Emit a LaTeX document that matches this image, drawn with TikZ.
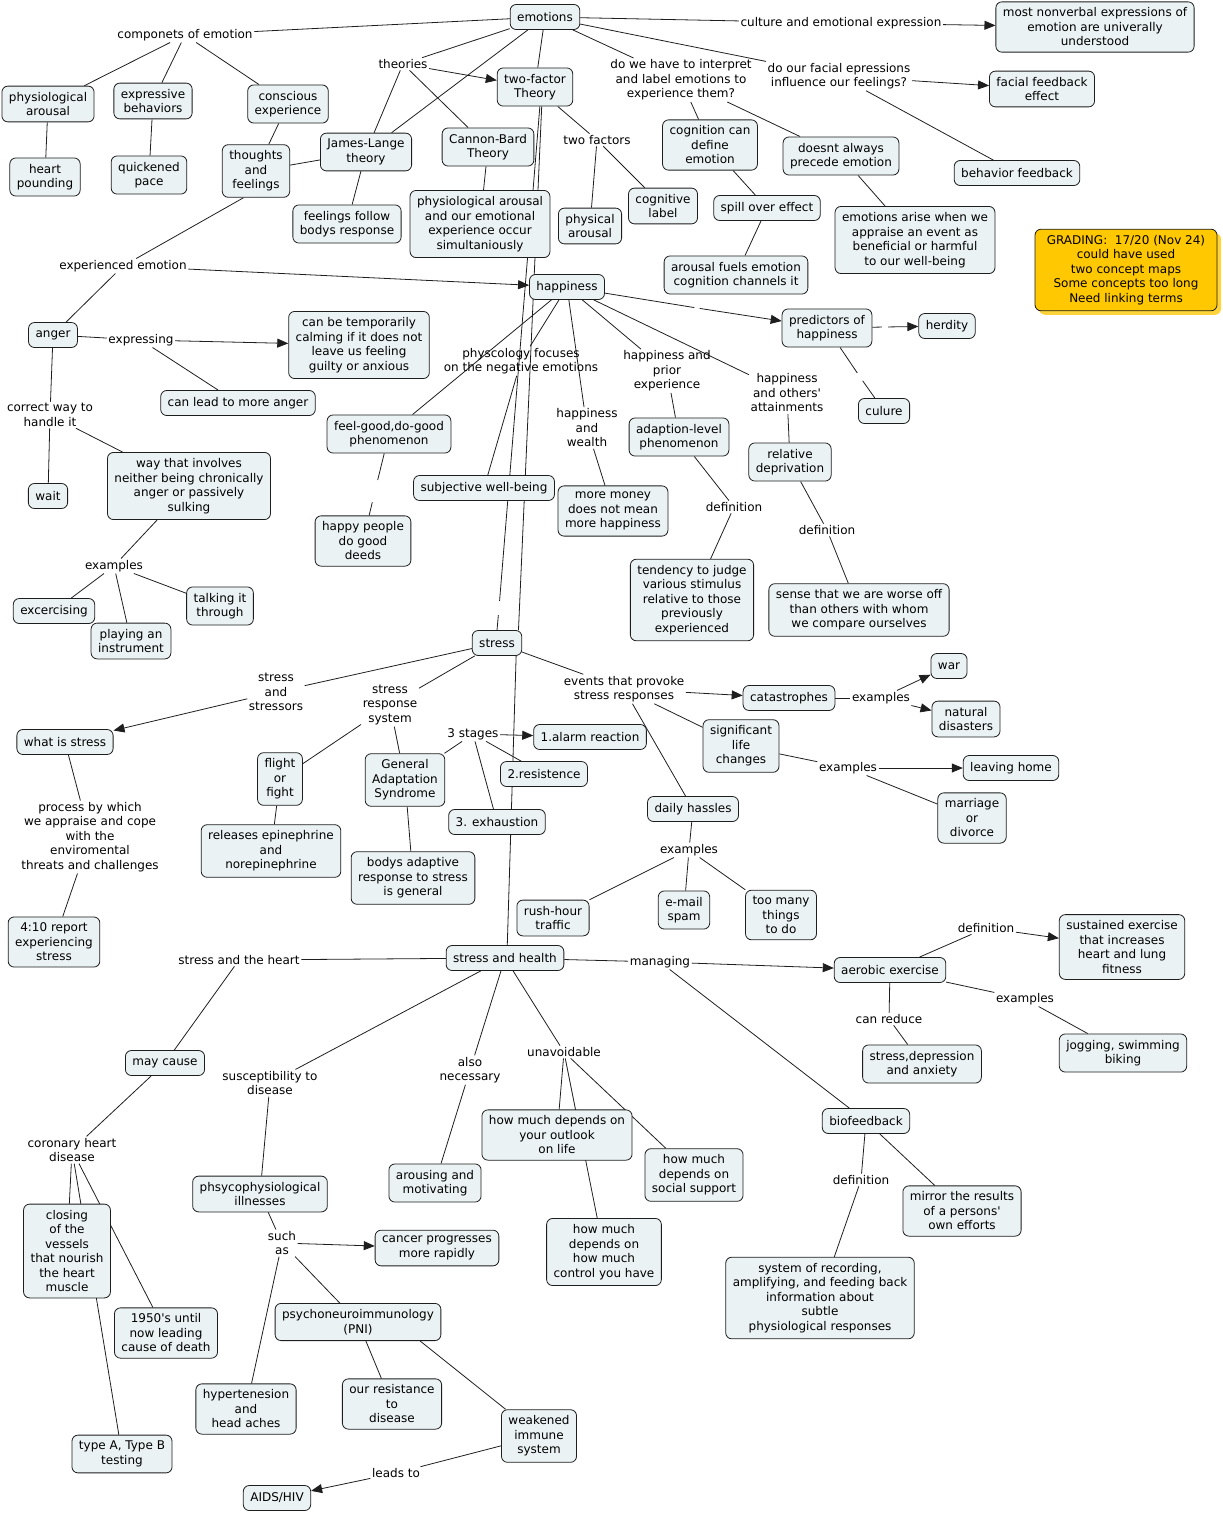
\documentclass[tikz,border=0pt]{standalone}
\usepackage{fontspec}
\setmainfont{DejaVu Sans}
\usetikzlibrary{arrows.meta, positioning, backgrounds, shadows}
\definecolor{cmInk}{HTML}{1E1E1E}
\definecolor{cmFill}{HTML}{EBF2F4}
\definecolor{cmGold}{HTML}{FFC800}
\definecolor{cmGoldShade}{HTML}{FFD43A}
\newcommand{\cmfont}{\fontsize{12}{14.5}\selectfont}
\newcommand{\apos}{\textquotesingle}
\tikzset{
  concept/.style={
    draw=cmInk, line width=0.8pt, rounded corners=6pt,
    fill=cmFill, align=center, font=\cmfont, text=black,
    inner xsep=7pt, inner ysep=6pt, minimum height=25pt
  },
  grading/.style={concept, fill=cmGold, minimum width=182pt,
    drop shadow={fill=cmGoldShade, opacity=1, shadow xshift=4pt, shadow yshift=-4pt}},
  linkph/.style={align=center, font=\cmfont, text=black, inner sep=1.5pt},
  gapbox/.style={inner sep=0pt, minimum width=5pt, minimum height=10pt},
  link/.style={draw=cmInk, line width=0.8pt},
  linkarr/.style={link, -{Triangle[length=11pt, width=9pt]}},
}

\begin{document}
\begin{tikzpicture}[x=1pt, y=-1pt]
  \useasboundingbox (0,0) rectangle (1223,1515);

  % emotions branch
  \node[concept] (emo) at (545,17) {emotions};
  \node[linkph] (lCulture) at (841,23) {culture and emotional expression};
  \node[concept] (nonverbal) at (1095,27) {most nonverbal expressions of\\emotion are univerally\\understood};
  \node[linkph] (lComp) at (185,35) {componets of emotion};
  \node[concept] (physArousal) at (48,104) {physiological\\arousal};
  \node[concept] (expressive) at (153,101) {expressive\\behaviors};
  \node[concept] (conscious) at (288,104) {conscious\\experience};
  \node[concept] (heart) at (45,177) {heart\\pounding};
  \node[concept] (quick) at (149,175) {quickened\\pace};
  \node[concept] (thoughts) at (256,171) {thoughts\\and\\feelings};
  \node[concept] (james) at (366,152) {James-Lange\\theory};
  \node[linkph] (lTheories) at (403,64) {theories};
  \node[concept] (twoF) at (535,87) {two-factor\\Theory};
  \node[concept] (cannon) at (488,147) {Cannon-Bard\\Theory};
  \node[concept] (feelFollow) at (347,224) {feelings follow\\bodys response};
  \node[concept] (simult) at (480,224) {physiological arousal\\and our emotional\\experience occur\\simultaniously};
  \node[linkph] (lInterpret) at (681,80) {do we have to interpret\\and label emotions to\\experience them?};
  \node[linkph] (lFacial) at (839,76) {do our facial epressions\\influence our feelings?};
  \node[concept] (facialFb) at (1042,89) {facial feedback\\effect};
  \node[linkph] (lTwoFactors) at (597,140) {two factors};
  \node[concept] (cogDefine) at (710,145) {cognition can\\define\\emotion};
  \node[concept] (doesnt) at (841,156) {doesnt always\\precede emotion};
  \node[concept] (behavFb) at (1017,173) {behavior feedback};
  \node[concept] (physical) at (590,226) {physical\\arousal};
  \node[concept] (cogLabel) at (663,206) {cognitive\\label};
  \node[concept] (spill) at (767,208) {spill over effect};
  \node[concept] (arise) at (915,240) {emotions arise when we\\appraise an event as\\beneficial or harmful\\to our well-being};
  \node[grading] (grading) at (1126,270) {GRADING:\ \ 17/20 (Nov 24)\\could have used\\two concept maps\\Some concepts too long\\Need linking terms};
  \node[concept] (fuels) at (736,275) {arousal fuels emotion\\cognition channels it};

  % happiness and anger
  \node[linkph] (lExperienced) at (123,266) {experienced emotion};
  \node[concept] (happy) at (567,287) {happiness};
  \node[concept] (anger) at (53,335) {anger};
  \node[linkph] (lExpressing) at (141,340) {expressing};
  \node[concept] (calming) at (359,345) {can be temporarily\\calming if it does not\\leave us feeling\\guilty or anxious};
  \node[concept] (moreAnger) at (238,403) {can lead to more anger};
  \node[concept] (predictors) at (827,328) {predictors of\\happiness};
  \node[concept] (herdity) at (947,326) {herdity};
  \node[concept] (culure) at (884,411) {culure};
  \node[gapbox] (gapPred) at (697,308) {};
  \node[gapbox, minimum width=6pt] (gapHerd) at (885,327) {};
  \node[gapbox] (gapCul) at (860,377) {};
  \node[linkph] (lPsych) at (521,361) {physcology focuses\\on the negative emotions};
  \node[linkph] (lPrior) at (667,371) {happiness and\\prior\\experience};
  \node[linkph] (lOthers) at (787,393) {happiness\\and others\apos\\attainments};
  \node[linkph] (lCorrect) at (50,415) {correct way to\\handle it};
  \node[concept] (feelGood) at (389,434) {feel-good,do-good\\phenomenon};
  \node[linkph] (lWealth) at (587,428) {happiness\\and\\wealth};
  \node[concept] (adaption) at (679,437) {adaption-level\\phenomenon};
  \node[concept] (relative) at (790,462) {relative\\deprivation};
  \node[concept] (wait) at (48,496) {wait};
  \node[concept] (involves) at (189,486) {way that involves\\neither being chronically\\anger or passively\\sulking};
  \node[concept] (subjective) at (484,488) {subjective well-being};
  \node[gapbox, minimum height=27pt] (gapDeeds) at (375,491) {};
  \node[concept] (deeds) at (363,541) {happy people\\do good\\deeds};
  \node[concept] (money) at (613,511) {more money\\does not mean\\more happiness};
  \node[linkph] (lDefAd) at (734,507) {definition};
  \node[linkph] (lDefRel) at (827,530) {definition};
  \node[linkph] (lExAnger) at (114,566) {examples};
  \node[concept] (excercising) at (54,611) {excercising};
  \node[concept] (talking) at (220,606) {talking it\\through};
  \node[concept] (playing) at (131,641) {playing an\\instrument};
  \node[concept] (tendency) at (692,600) {tendency to judge\\various stimulus\\relative to those\\previously\\experienced};
  \node[concept] (worseOff) at (859,610) {sense that we are worse off\\than others with whom\\we compare ourselves};

  % stress
  \node[concept] (stress) at (497,643) {stress};
  \node[gapbox, minimum height=14pt] (gapStress) at (499,608) {};
  \node[linkph] (lStressors) at (276,692) {stress\\and\\stressors};
  \node[linkph] (lResponse) at (390,705) {stress\\response\\system};
  \node[linkph] (lEvents) at (624,689) {events that provoke\\stress responses};
  \node[concept] (catastrophes) at (789,698) {catastrophes};
  \node[linkph] (lExCat) at (881,698) {examples};
  \node[concept] (war) at (949,666) {war};
  \node[concept] (natural) at (966,719) {natural\\disasters};
  \node[concept] (whatStress) at (65,742) {what is stress};
  \node[linkph] (lStages) at (473,734) {3 stages};
  \node[concept] (alarm) at (590,737) {1.alarm reaction};
  \node[concept] (flight) at (280,779) {flight\\or\\fight};
  \node[concept] (gas) at (405,780) {General\\Adaptation\\Syndrome};
  \node[concept] (resist) at (544,774) {2.resistence};
  \node[concept] (sigLife) at (741,746) {significant\\life\\changes};
  \node[linkph] (lExSig) at (848,768) {examples};
  \node[concept] (leaving) at (1011,768) {leaving home};
  \node[concept] (marriage) at (972,818) {marriage\\or\\divorce};
  \node[concept] (hassles) at (693,809) {daily hassles};
  \node[concept] (exhaustion) at (497,822) {3. exhaustion};
  \node[linkph] (lProcess) at (90,837) {process by which\\we appraise and cope\\with the\\enviromental\\threats and challenges};
  \node[concept] (releases) at (271,851) {releases epinephrine\\and\\norepinephrine};
  \node[concept] (adaptive) at (413,878) {bodys adaptive\\response to stress\\is general};
  \node[linkph] (lExDaily) at (689,850) {examples};
  \node[concept] (rush) at (553,918) {rush-hour\\traffic};
  \node[concept] (email) at (684,910) {e-mail\\spam};
  \node[concept] (tooMany) at (781,915) {too many\\things\\to do};
  \node[concept] (report) at (54,942) {4:10 report\\experiencing\\stress};

  % stress and health
  \node[linkph] (lDefAer) at (986,928) {definition};
  \node[concept] (sustained) at (1122,947) {sustained exercise\\that increases\\heart and lung\\fitness};
  \node[linkph] (lHeart) at (239,960) {stress and the heart};
  \node[concept] (health) at (505,958) {stress and health};
  \node[linkph] (lManaging) at (660,962) {managing};
  \node[concept] (aerobic) at (890,970) {aerobic exercise};
  \node[linkph] (lExAer) at (1025,999) {examples};
  \node[linkph] (lReduce) at (889,1019) {can reduce};
  \node[concept] (depression) at (922,1064) {stress,depression\\and anxiety};
  \node[concept] (jogging) at (1123,1053) {jogging, swimming\\biking};
  \node[concept] (mayCause) at (165,1063) {may cause};
  \node[linkph] (lSuscept) at (270,1083) {susceptibility to\\disease};
  \node[linkph] (lNecessary) at (470,1070) {also\\necessary};
  \node[linkph] (lUnavoid) at (564,1052) {unavoidable};
  \node[concept] (outlook) at (557,1135) {how much depends on\\your outlook\\on life};
  \node[concept] (social) at (694,1175) {how much\\depends on\\social support};
  \node[concept] (biofb) at (866,1121) {biofeedback};
  \node[linkph] (lCoronary) at (72,1150) {coronary heart\\disease};
  \node[concept] (closing) at (67,1251) {closing\\of the\\vessels\\that nourish\\the heart\\muscle};
  \node[concept] (phsyco) at (260,1194) {phsycophysiological\\illnesses};
  \node[concept] (arousing) at (435,1183) {arousing and\\motivating};
  \node[linkph] (lDefBio) at (861,1180) {definition};
  \node[concept] (mirror) at (962,1211) {mirror the results\\of a persons\apos\\own efforts};
  \node[linkph] (lSuch) at (282,1243) {such\\as};
  \node[concept] (cancer) at (437,1248) {cancer progresses\\more rapidly};
  \node[concept] (control) at (604,1252) {how much\\depends on\\how much\\control you have};
  \node[concept] (recording) at (820,1298) {system of recording,\\amplifying, and feeding back\\information about\\subtle\\physiological responses};
  \node[concept] (fifties) at (166,1333) {1950\apos s until\\now leading\\cause of death};
  \node[concept] (pni) at (358,1322) {psychoneuroimmunology\\(PNI)};
  \node[concept] (hyper) at (246,1409) {hypertenesion\\and\\head aches};
  \node[concept] (resistance) at (392,1404) {our resistance\\to\\disease};
  \node[concept] (weakened) at (539,1436) {weakened\\immune\\system};
  \node[concept] (typeAB) at (122,1454) {type A, Type B\\testing};
  \node[linkph] (lLeads) at (396,1473) {leads to};
  \node[concept] (aids) at (277,1498) {AIDS/HIV};

  \begin{scope}[on background layer]
    % emotions
    \draw[link] (emo) -- (lComp);
    \draw[link] (lComp) -- (physArousal);
    \draw[link] (lComp) -- (expressive);
    \draw[link] (lComp) -- (conscious);
    \draw[link] (physArousal) -- (heart);
    \draw[link] (expressive) -- (quick);
    \draw[link] (conscious) -- (thoughts);
    \draw[link] (thoughts) -- (james);
    \draw[link] (thoughts.-115) -- (lExperienced);
    \draw[link] (emo) -- (lTheories);
    \draw[linkarr] (lTheories) -- (twoF);
    \draw[link] (lTheories) -- (james);
    \draw[link] (lTheories) -- (cannon);
    \draw[link] (emo) -- (james);
    \draw[link] (james) -- (feelFollow);
    \draw[link] (cannon) -- (simult);
    \draw[link] (emo) -- (twoF);
    \draw[link] (twoF.-76) -- (gapStress) -- (stress.north);
    \draw[link] (twoF.-71) -- (stress.31);
    \draw[link] (twoF) -- (lTwoFactors);
    \draw[link] (lTwoFactors) -- (physical);
    \draw[link] (lTwoFactors) -- (cogLabel);
    \draw[link] (emo) -- (lCulture);
    \draw[linkarr] (lCulture) -- (nonverbal);
    \draw[link] (emo) -- (lInterpret);
    \draw[link] (emo) -- (lFacial);
    \draw[linkarr] (lFacial) -- (facialFb);
    \draw[link] (lFacial) -- (behavFb);
    \draw[link] (lInterpret) -- (cogDefine);
    \draw[link] (lInterpret) -- (doesnt);
    \draw[link] (cogDefine) -- (spill);
    \draw[link] (spill) -- (fuels);
    \draw[link] (doesnt) -- (arise);
    % happiness and anger
    \draw[linkarr] (lExperienced) -- (happy);
    \draw[link] (lExperienced) -- (anger);
    \draw[link] (anger) -- (lExpressing);
    \draw[linkarr] (lExpressing) -- (calming);
    \draw[link] (lExpressing) -- (moreAnger);
    \draw[link] (anger) -- (lCorrect);
    \draw[link] (lCorrect) -- (wait);
    \draw[link] (lCorrect) -- (involves);
    \draw[link] (involves) -- (lExAnger);
    \draw[link] (lExAnger) -- (excercising);
    \draw[link] (lExAnger) -- (playing);
    \draw[link] (lExAnger) -- (talking);
    \draw[link] (happy) -- (feelGood);
    \draw[link] (feelGood) -- (gapDeeds) -- (deeds);
    \draw[link] (happy) -- (lPsych);
    \draw[link] (lPsych) -- (subjective);
    \draw[link] (happy) -- (lWealth);
    \draw[link] (lWealth) -- (money);
    \draw[link] (happy) -- (lPrior);
    \draw[link] (lPrior) -- (adaption);
    \draw[link] (adaption) -- (lDefAd);
    \draw[link] (lDefAd) -- (tendency);
    \draw[link] (happy) -- (lOthers);
    \draw[link] (lOthers) -- (relative);
    \draw[link] (relative) -- (lDefRel);
    \draw[link] (lDefRel) -- (worseOff);
    \draw[linkarr] (happy) -- (gapPred) -- (predictors);
    \draw[linkarr] (predictors) -- (gapHerd) -- (herdity);
    \draw[link] (predictors) -- (gapCul) -- (culure);
    % stress
    \draw[link] (stress) -- (lStressors);
    \draw[linkarr] (lStressors) -- (whatStress);
    \draw[link] (whatStress) -- (lProcess);
    \draw[link] (lProcess) -- (report);
    \draw[link] (stress) -- (lResponse);
    \draw[link] (lResponse) -- (flight);
    \draw[link] (lResponse) -- (gas);
    \draw[link] (flight) -- (releases);
    \draw[link] (gas) -- (adaptive);
    \draw[link] (gas) -- (lStages);
    \draw[linkarr] (lStages) -- (alarm);
    \draw[link] (lStages) -- (resist);
    \draw[link] (lStages) -- (exhaustion);
    \draw[link] (stress) -- (lEvents);
    \draw[linkarr] (lEvents) -- (catastrophes);
    \draw[link] (lEvents) -- (sigLife);
    \draw[link] (lEvents) -- (hassles);
    \draw[link] (catastrophes) -- (lExCat);
    \draw[linkarr] (lExCat) -- (war);
    \draw[linkarr] (lExCat) -- (natural);
    \draw[link] (sigLife) -- (lExSig);
    \draw[linkarr] (lExSig) -- (leaving);
    \draw[link] (lExSig) -- (marriage);
    \draw[link] (hassles) -- (lExDaily);
    \draw[link] (lExDaily) -- (rush);
    \draw[link] (lExDaily) -- (email);
    \draw[link] (lExDaily) -- (tooMany);
    \draw[link] (stress.-34) -- (health.80);
    % stress and health
    \draw[link] (health) -- (lHeart);
    \draw[link] (lHeart) -- (mayCause);
    \draw[link] (mayCause) -- (lCoronary);
    \draw[link] (lCoronary) -- (closing);
    \draw[link] (lCoronary) -- (fifties);
    \draw[link] (lCoronary) -- (typeAB);
    \draw[link] (health) -- (lSuscept);
    \draw[link] (lSuscept) -- (phsyco);
    \draw[link] (phsyco) -- (lSuch);
    \draw[linkarr] (lSuch) -- (cancer);
    \draw[link] (lSuch) -- (pni);
    \draw[link] (lSuch) -- (hyper);
    \draw[link] (pni) -- (resistance);
    \draw[link] (pni.-17) -- (weakened);
    \draw[link] (weakened) -- (lLeads);
    \draw[linkarr] (lLeads) -- (aids);
    \draw[link] (health) -- (lNecessary);
    \draw[link] (lNecessary) -- (arousing);
    \draw[link] (health) -- (lUnavoid);
    \draw[link] (lUnavoid) -- (outlook);
    \draw[link] (lUnavoid) -- (control);
    \draw[link] (lUnavoid) -- (social);
    \draw[link] (health) -- (lManaging);
    \draw[linkarr] (lManaging) -- (aerobic);
    \draw[link] (lManaging) -- (biofb);
    \draw[link] (aerobic) -- (lDefAer);
    \draw[linkarr] (lDefAer) -- (sustained);
    \draw[link] (aerobic) -- (lReduce);
    \draw[link] (lReduce) -- (depression);
    \draw[link] (aerobic) -- (lExAer);
    \draw[link] (lExAer) -- (jogging);
    \draw[link] (biofb) -- (lDefBio);
    \draw[link] (lDefBio) -- (recording);
    \draw[link] (biofb) -- (mirror);
  \end{scope}
\end{tikzpicture}
\end{document}
